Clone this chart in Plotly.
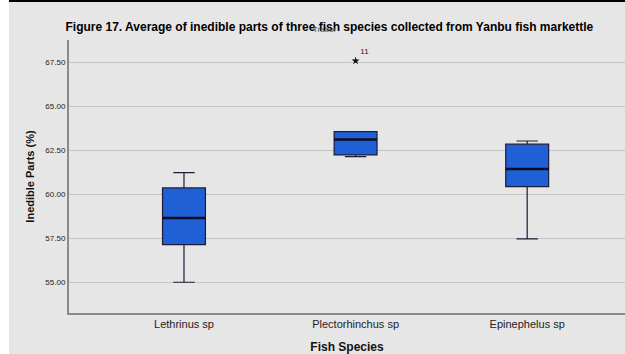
import plotly.graph_objects as go

species = ["Lethrinus sp", "Plectorhinchus sp", "Epinephelus sp"]
q1 = [57.14, 62.25, 60.44]
median = [58.66, 63.12, 61.45]
q3 = [60.37, 63.57, 62.86]
lower = [55.00, 62.15, 57.47]
upper = [61.24, 63.57, 63.04]
outlier_species = [1]
outlier_values = [67.60]
outlier_labels = ["11"]
y_ticks = [55.0, 57.5, 60.0, 62.5, 65.0, 67.5]

BOX_W = 0.25
fig = go.Figure()
for i, name in enumerate(species):
    fig.add_trace(go.Box(
        x=[i], q1=[q1[i]], median=[median[i]], q3=[q3[i]],
        lowerfence=[lower[i]], upperfence=[upper[i]],
        width=BOX_W, whiskerwidth=0.5,
        fillcolor="#1f60d6", line=dict(color="#1c1c3a", width=1.2),
        boxpoints=False, showlegend=False, hoverinfo="skip",
    ))
    fig.add_trace(go.Scatter(
        x=[i - BOX_W / 2, i + BOX_W / 2], y=[median[i], median[i]],
        mode="lines", line=dict(color="#0d0d26", width=2.5),
        showlegend=False, hoverinfo="skip",
    ))

fig.add_trace(go.Scatter(
    x=outlier_species, y=outlier_values, mode="markers+text",
    marker=dict(symbol="star", size=6, color="#111111"),
    text=outlier_labels, textposition="top right",
    textfont=dict(size=8, color="#222222", family="Liberation Sans, Arial"),
    showlegend=False, hoverinfo="skip",
))

fig.update_layout(
    width=625, height=354,
    margin=dict(l=69, r=0, t=40, b=41, autoexpand=False),
    paper_bgcolor="#e6e6e6", plot_bgcolor="#e6e6e6",
    font=dict(family="Liberation Sans, Arial", color="#111111"),
    title=dict(
        text="<b>Figure 17. Average of inedible parts of three fish species collected from Yanbu fish markettle</b>",
        x=0.527, xanchor="center", yref="container", y=1 - 27 / 354, yanchor="middle",
        font=dict(size=12, color="#000000"), automargin=False,
    ),
    xaxis=dict(
        range=[-0.67, 2.57], tickvals=list(range(len(species))), ticktext=species,
        showgrid=False, zeroline=False, showline=True, linecolor="#8a8a8a", linewidth=2,
        ticks="", tickfont=dict(size=11, color="#222222"), automargin=False,
        title=dict(text="<b>Fish Species</b>", font=dict(size=12, color="#111111"), standoff=14),
    ),
    yaxis=dict(
        range=[53.25, 68.79], tickvals=y_ticks, ticktext=[f"{v:.2f}" for v in y_ticks],
        showgrid=True, gridcolor="#c4c4c4", gridwidth=1.2, zeroline=False,
        showline=True, linecolor="#8a8a8a", linewidth=2, automargin=False,
        ticks="", tickfont=dict(size=8, color="#222222"),
        title=dict(text="<b>Inedible Parts (%)</b>", font=dict(size=11, color="#111111"), standoff=9),
    ),
    shapes=[
        dict(type="rect", xref="paper", yref="paper", x0=-69/556, x1=-60/556, y0=-41/273, y1=1 + 40/273,
             fillcolor="#ffffff", line=dict(width=0), layer="above"),
        dict(type="rect", xref="paper", yref="paper", x0=-60/556, x1=1, y0=1 + 38/273, y1=1 + 40/273,
             fillcolor="#000000", line=dict(width=0), layer="above"),
    ],
    annotations=[
        dict(text="Trabor", xref="paper", yref="paper", x=(325 - 69) / 556, y=1 + 10 / 273,
             yanchor="middle", showarrow=False, font=dict(size=8, color="#555555")),
    ],
)

fig.write_html("out.html", config={"displayModeBar": False},
               post_script="document.body.style.margin='0';")
